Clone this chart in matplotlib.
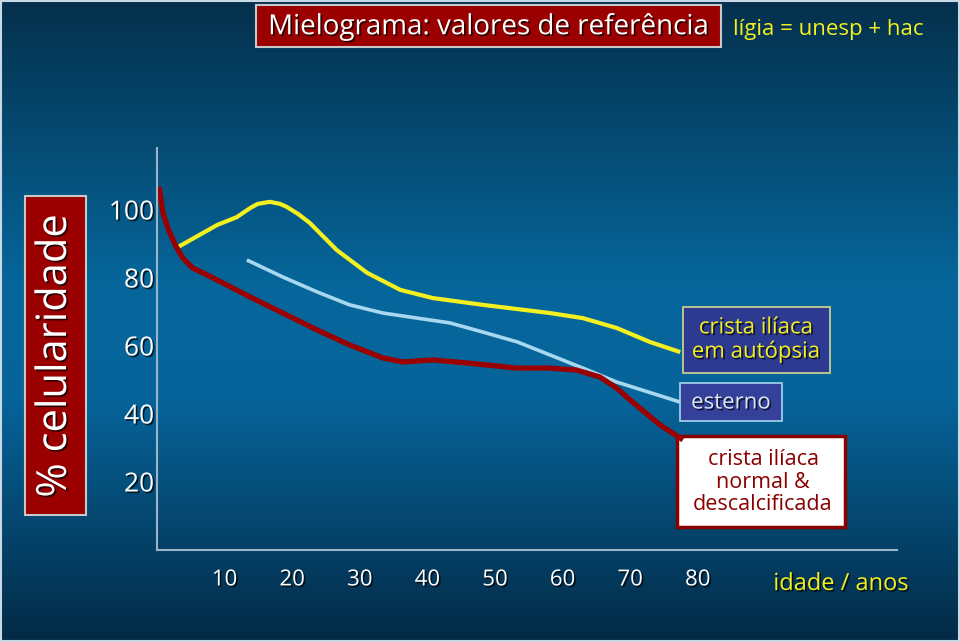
import numpy as np
import matplotlib
matplotlib.use("Agg")
import matplotlib.pyplot as plt
import matplotlib.patheffects as pe
from matplotlib.colors import LinearSegmentedColormap
from matplotlib.patches import Rectangle

plt.rcParams['font.family'] = ['Open Sans', 'DejaVu Sans']

# %% data
idade_autopsia = [3.1, 8.9, 11.8, 13.8, 14.9, 16.7, 18.2, 19.2, 20.9, 22.6, 26.6, 31.1, 36.0, 40.8,
                  48.2, 58.1, 63.0, 68.0, 72.9, 77.4]
cel_autopsia = [89.1, 95.6, 97.9, 100.6, 101.8, 102.4, 101.8, 100.9, 98.8, 96.2, 88.2, 81.5, 76.5, 74.1,
                72.1, 69.7, 68.2, 65.3, 61.2, 58.2]

idade_esterno = [13.3, 18.6, 23.7, 28.5, 33.4, 38.5, 43.3, 48.2, 53.3, 58.1, 63.0, 68.0, 77.4]
cel_esterno = [85.3, 80.3, 75.9, 72.1, 69.7, 68.2, 66.8, 64.1, 61.2, 57.4, 53.5, 49.4, 43.5]

idade_normal = [0.3, 0.9, 1.6, 2.7, 3.8, 5.3, 6.8, 8.9, 13.8, 18.6, 23.7, 28.5, 33.4, 36.4, 40.8,
                45.9, 53.3, 58.1, 62.1, 65.5, 68.0, 70.0, 74.4, 77.8]
cel_normal = [106.8, 99.1, 94.7, 89.7, 85.9, 82.9, 81.5, 79.4, 74.4, 69.7, 64.7, 60.3, 56.5, 55.3, 55.9,
              55.0, 53.5, 53.5, 52.9, 50.9, 47.6, 44.1, 36.8, 32.4]

x_ticks = [10, 20, 30, 40, 50, 60, 70, 80]
y_ticks = [20, 40, 60, 80, 100]

W, H = 960, 642


def fx(x):
    return x / W


def fy(y):
    return 1 - y / H


shadow = [pe.SimplePatchShadow(offset=(1.2, -1.2), shadow_rgbFace='black', alpha=0.7), pe.Normal()]

# %% figure + gradient background
fig = plt.figure(figsize=(9.6, 6.42), dpi=100)
bg = fig.add_axes([0, 0, 1, 1])
cmap = LinearSegmentedColormap.from_list(
    'slide', [(0.0, '#04304c'), (0.45, '#06679c'), (0.62, '#06649a'), (1.0, '#032a46')])
bg.imshow(np.linspace(0, 1, 256).reshape(-1, 1), cmap=cmap, aspect='auto',
          extent=[0, 1, 0, 1], origin='upper')
bg.set_xlim(0, 1)
bg.set_ylim(0, 1)
bg.axis('off')
bg.add_patch(Rectangle((0.001, 0.002), 0.998, 0.996, fill=False, ec='#c8d8e4', lw=1.5))

# %% chart
ax = fig.add_axes([fx(157), fy(550), fx(897) - fx(157), (550 - 148) / H])
ax.patch.set_alpha(0)
style = dict(solid_capstyle='butt', solid_joinstyle='round')
ax.plot(idade_autopsia, cel_autopsia, color='#f4f020', lw=3.0, **style)
ax.plot(idade_esterno, cel_esterno, color='#a8d8f0', lw=2.6, **style)
ax.plot(idade_normal, cel_normal, color='#9a0000', lw=3.8, **style)
ax.set_xlim(0, 740 / 6.76)
ax.set_ylim(0, 402 / 3.4)
for s in ['top', 'right']:
    ax.spines[s].set_visible(False)
for s in ['left', 'bottom']:
    ax.spines[s].set_color('#9ab4c8')
    ax.spines[s].set_linewidth(1.5)
ax.set_xticks(x_ticks)
ax.set_yticks(y_ticks)
ax.tick_params(length=0)
ax.tick_params(axis='x', pad=14, labelsize=16, labelcolor='white')
ax.tick_params(axis='y', pad=2, labelsize=19, labelcolor='white')
for lab in ax.get_xticklabels() + ax.get_yticklabels():
    lab.set_path_effects(shadow)

# %% title and labels
bg.add_patch(Rectangle((fx(256), fy(47)), fx(721) - fx(256), (47 - 5) / H,
                       fc='#9a0000', ec='#c8c8c8', lw=1.5))
bg.text(fx(488), fy(27), 'Mielograma: valores de referência', color='white',
        fontsize=20, ha='center', va='center', path_effects=shadow)
bg.text(fx(733), fy(30), 'lígia = unesp + hac', color='#f4f020', fontsize=16,
        ha='left', va='center')

bg.add_patch(Rectangle((fx(25), fy(515)), fx(86) - fx(25), (515 - 196) / H,
                       fc='#9a0000', ec='#c8c8c8', lw=1.5))
bg.text(fx(55), fy(356), '% celularidade', color='white', fontsize=30, rotation=90,
        ha='center', va='center', path_effects=shadow)

bg.text(fx(841), fy(584), 'idade / anos', color='#f4f020', fontsize=17,
        ha='center', va='center', path_effects=shadow)

# %% series label boxes
bg.add_patch(Rectangle((fx(683), fy(373)), fx(830) - fx(683), (373 - 307) / H,
                       fc='#2c3a92', ec='#d8d890', lw=1.2))
bg.text(fx(756), fy(340), 'crista ilíaca\nem autópsia', color='#f4f020', fontsize=16,
        ha='center', va='center', linespacing=1.2, path_effects=shadow)

bg.add_patch(Rectangle((fx(680), fy(421)), fx(782) - fx(680), (421 - 383) / H,
                       fc='#34409a', ec='#a8d8f0', lw=1.2))
bg.text(fx(731), fy(403), 'esterno', color='#dce8f8', fontsize=16,
        ha='center', va='center', path_effects=shadow)

bg.add_patch(Rectangle((fx(677), fy(527)), fx(845) - fx(677), (527 - 436) / H,
                       fc='white', ec='#8a0000', lw=2.5))
bg.text(fx(763), fy(482), 'crista ilíaca\nnormal &\ndescalcificada', color='#8a0000',
        fontsize=15.5, ha='center', va='center', linespacing=1.12)

fig.savefig('out.png', dpi=100)
